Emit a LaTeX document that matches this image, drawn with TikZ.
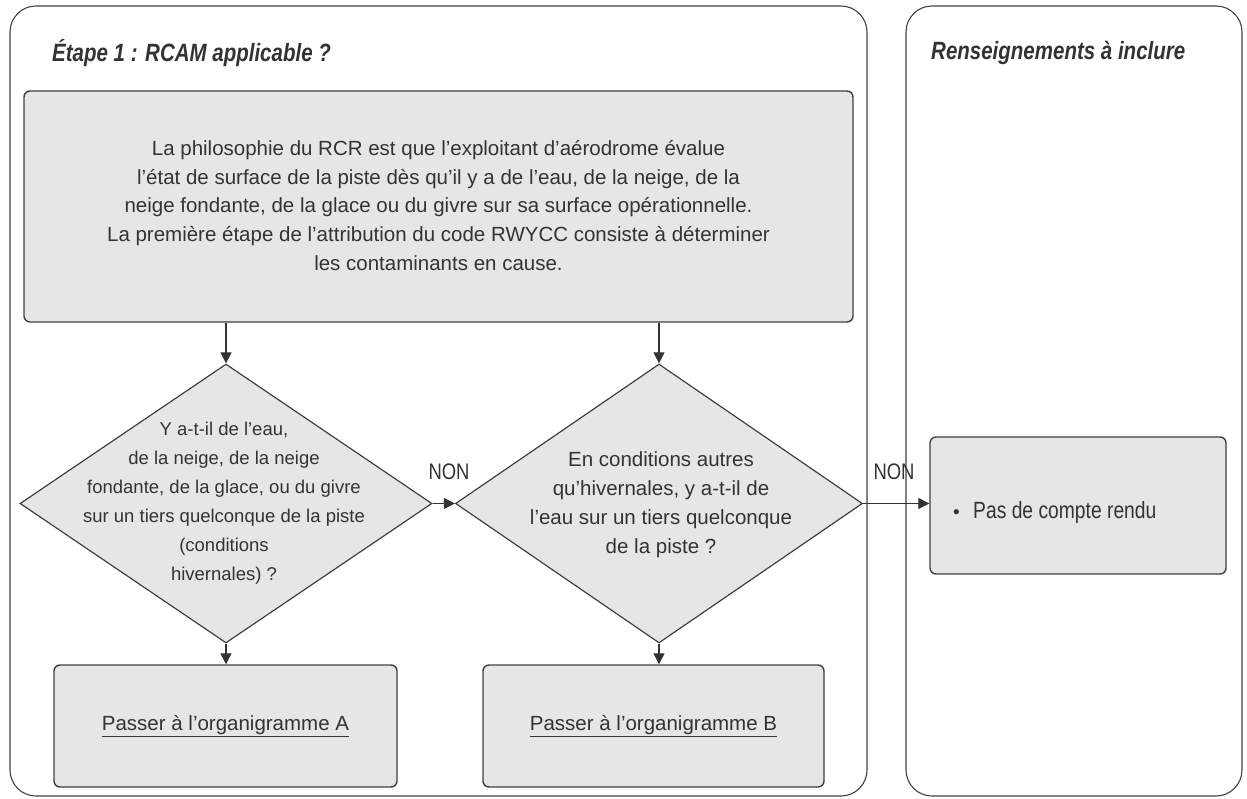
\documentclass[tikz,border=0pt]{standalone}
\usepackage{fontspec}
\setmainfont{Liberation Sans}
\newfontfamily\narrow{Liberation Sans}[FakeStretch=0.82]
\usetikzlibrary{shapes.geometric,arrows.meta}
\definecolor{boxfill}{HTML}{E6E6E6}
\definecolor{edge}{HTML}{404040}
\definecolor{ink}{HTML}{333333}
\tikzset{
  lane/.style={draw=edge, line width=1.1pt, rounded corners=26pt, inner sep=0pt},
  stepbox/.style={draw=edge, fill=boxfill, line width=1.4pt, rounded corners=6pt, inner sep=0pt},
  decision/.style={draw=edge, fill=boxfill, line width=1.2pt, diamond, inner sep=0pt},
  txt/.style={text=ink, align=center, inner sep=0pt},
  maintxt/.style={txt, font=\fontsize{20.5}{28.9}\selectfont},
  asktxt/.style={txt, font=\fontsize{18.5}{29}\selectfont},
  gotxt/.style={txt, font=\fontsize{20.5}{25}\selectfont},
  nontxt/.style={txt, font=\narrow\fontsize{22.5}{25}\selectfont},
  heading/.style={text=ink, font=\narrow\fontsize{25}{30}\selectfont\bfseries\itshape, anchor=west, inner sep=0pt},
  arr/.style={draw=ink, line width=1.2pt, -{Triangle[length=11pt,width=11pt]}},
}
\begin{document}
\begin{tikzpicture}[x=1pt,y=-1pt]
\useasboundingbox (0,0) rectangle (1247,799);
% swim lanes
\node[lane, minimum width=857pt, minimum height=790pt] (lane1) at (438.5,401) {};
\node[lane, minimum width=336pt, minimum height=790pt] (lane2) at (1074,401) {};
\node[heading] (h1) at (52,53) {Étape 1 : RCAM applicable ?};
\node[heading] (h2) at (931,53) {Renseignements à inclure};
% introduction box
\node[stepbox, minimum width=829pt, minimum height=231pt] (intro) at (438.5,206.5) {};
\node[maintxt] (introtxt) at (438.5,205.5) {La philosophie du RCR est que l’exploitant d’aérodrome évalue\\
l’état de surface de la piste dès qu’il y a de l’eau, de la neige, de la\\
neige fondante, de la glace ou du givre sur sa surface opérationnelle.\\
La première étape de l’attribution du code RWYCC consiste à déterminer\\
les contaminants en cause.};
% decisions
\node[decision, minimum width=412pt, minimum height=279pt] (d1) at (226,503.5) {};
\node[asktxt] (d1txt) at (224,503) {Y a-t-il de l’eau,\\
de la neige, de la neige\\
fondante, de la glace, ou du givre\\
sur un tiers quelconque de la piste\\
(conditions\\
hivernales) ?};
\node[decision, minimum width=407pt, minimum height=279pt] (d2) at (659,503.5) {};
\node[asktxt, font=\fontsize{20.5}{29}\selectfont] (d2txt) at (661,505) {En conditions autres\\
qu’hivernales, y a-t-il de\\
l’eau sur un tiers quelconque\\
de la piste ?};
% outcomes
\node[stepbox, minimum width=343pt, minimum height=122pt] (outA) at (225.5,726) {};
\node[gotxt] (outAtxt) at (outA.center) {\underline{Passer à l’organigramme A}};
\node[stepbox, minimum width=341pt, minimum height=122pt] (outB) at (653.5,726) {};
\node[gotxt] (outBtxt) at (outB.center) {\underline{Passer à l’organigramme B}};
\node[stepbox, minimum width=296pt, minimum height=137pt] (none) at (1078,505.5) {};
\node[txt, anchor=base west, font=\narrow\fontsize{23.5}{28}\selectfont] (nonetxt) at (953,518) {\makebox[20pt][l]{\fontspec{Liberation Sans}\fontsize{19}{19}\selectfont\textbullet}Pas de compte rendu};
% connectors
\draw[arr] (intro.south -| d1.north) -- (d1.north);
\draw[arr] (intro.south -| d2.north) -- (d2.north);
\draw[arr] (d1.east) -- (d2.west);
\draw[arr] (d2.east) -- (d2.east -| none.west);
\draw[arr] (d1.south) -- (d1.south |- outA.north);
\draw[arr] (d2.south) -- (d2.south |- outB.north);
\node[nontxt] (non1) at (449,472) {NON};
\node[nontxt] (non2) at (894,472) {NON};
\end{tikzpicture}
\end{document}
